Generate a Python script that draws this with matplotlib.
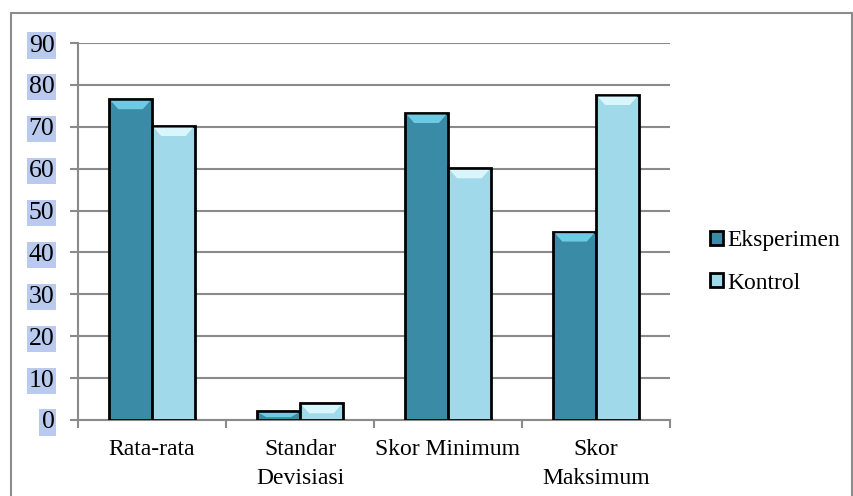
import matplotlib.pyplot as plt
import numpy as np
from matplotlib.patches import Patch, Polygon, Rectangle

categories = ["Rata-rata", "Standar\nDevisiasi", "Skor Minimum", "Skor\nMaksimum"]
eksperimen = [76.6, 2.1, 73.3, 45.0]
kontrol = [70.2, 4.0, 60.1, 77.6]
series_names = ["Eksperimen", "Kontrol"]

DARK = "#3a8ca6"
LIGHT = "#9fd9ea"
DARK_TOP = "#6ccbe2"
LIGHT_TOP = "#d8f6fc"

plt.rcParams["font.family"] = ["Liberation Serif", "DejaVu Serif"]

fig = plt.figure(figsize=(8.54, 4.96), dpi=100)

# grey frame around the whole chart
fig.patches.append(Rectangle((11 / 854, -0.05), 841 / 854, 1.05 - 13 / 496,
                             transform=fig.transFigure, fill=False,
                             edgecolor="#8c8c8c", linewidth=1.5))

ax = fig.add_axes([78 / 854, 1 - 420 / 496, 592 / 854, 377 / 496])

x = np.arange(len(categories))
w = 0.29
bars_e = ax.bar(x - w / 2, eksperimen, w, color=DARK, edgecolor="black",
                linewidth=2, zorder=3)
bars_k = ax.bar(x + w / 2, kontrol, w, color=LIGHT, edgecolor="black",
                linewidth=2, zorder=3)

# bevel highlight at the top of each bar
bh = 2.0
inset = 0.05
for bars, col in [(bars_e, DARK_TOP), (bars_k, LIGHT_TOP)]:
    for b in bars:
        x0 = b.get_x() + 0.012
        x1 = b.get_x() + b.get_width() - 0.012
        top = b.get_height() - 0.4
        h = min(bh, top * 0.6)
        poly = Polygon([(x0, top), (x1, top), (x1 - inset, top - h), (x0 + inset, top - h)],
                       closed=True, facecolor=col, edgecolor="none", zorder=4)
        ax.add_patch(poly)

ax.set_xlim(-0.5, len(categories) - 0.5)
ax.set_ylim(0, 90)
ax.set_yticks(range(0, 91, 10))
ax.yaxis.grid(True, color="#8a8a8a", linewidth=1.5)
ax.set_axisbelow(True)

ax.set_xticks(x)
ax.set_xticklabels(categories, fontsize=17, linespacing=1.45)
ax.tick_params(axis="x", length=0, pad=14)
# category separators on the x axis
ax.set_xticks(np.arange(-0.5, len(categories)), minor=True)
ax.tick_params(axis="x", which="minor", length=6, width=1.5, color="#8a8a8a")

ax.tick_params(axis="y", length=6, width=1.5, color="#8a8a8a", pad=11, labelsize=18.5)
for lab in ax.get_yticklabels():
    lab.set_bbox(dict(facecolor="#b9caee", edgecolor="none", pad=1.5))

for side in ["top", "right"]:
    ax.spines[side].set_visible(False)
for side in ["left", "bottom"]:
    ax.spines[side].set_color("#8a8a8a")
    ax.spines[side].set_linewidth(1.5)

handles = [Patch(facecolor=DARK, edgecolor="black", linewidth=2),
           Patch(facecolor=LIGHT, edgecolor="black", linewidth=2)]
fig.legend(handles, series_names, loc="center left",
           bbox_to_anchor=(710 / 854, 1 - 262 / 496), frameon=False,
           borderpad=0, borderaxespad=0,
           fontsize=17, handlelength=0.55, handleheight=0.55,
           handletextpad=0.2, labelspacing=0.9)

fig.savefig("out.png", dpi=100)
